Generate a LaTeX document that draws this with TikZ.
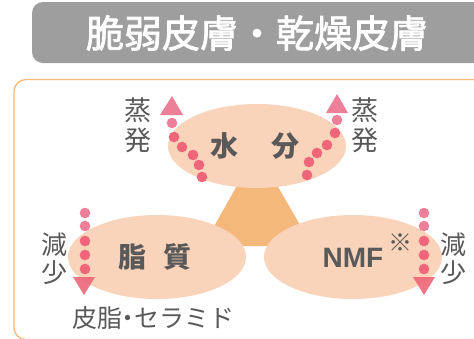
\documentclass[tikz,border=0pt]{standalone}
\usepackage{fontspec}
\newfontfamily\jp{Noto Sans CJK JP}
\newfontfamily\jpm[FakeBold=2]{Noto Sans CJK JP}
\newfontfamily\lat{Liberation Sans}
\usetikzlibrary{shapes.geometric}
\definecolor{titlegray}{HTML}{9E9E9E}
\definecolor{frameorange}{HTML}{F5B97A}
\definecolor{peach}{HTML}{F9D3BA}
\definecolor{trio}{HTML}{F4B87A}
\definecolor{txt}{HTML}{595959}
\definecolor{dotlight}{HTML}{EE7F98}
\definecolor{dotred}{HTML}{EE6677}
\tikzset{
  blob/.style={ellipse, fill=peach, minimum width=178pt, minimum height=84pt, inner sep=0pt},
  lbl/.style={text=txt, font=\jp\fontsize{27}{30}\selectfont, inner sep=0pt, align=center},
  lbls/.style={text=txt, font=\jp\fontsize{26}{28}\selectfont, inner sep=0pt, align=center},
  big/.style={text=txt, font=\jp\bfseries\fontsize{28}{30}\selectfont, inner sep=0pt},
  dotl/.style={fill=dotlight},
  dotr/.style={fill=dotred},
}
\begin{document}
\begin{tikzpicture}[x=1pt,y=-1pt]
\useasboundingbox (0,0) rectangle (474,338);
\clip (0,0) rectangle (474,338);
% title
\fill[titlegray, rounded corners=11pt] (32,2) rectangle (500,63);
\node[text=white, font=\jpm\fontsize{38}{40}\selectfont, inner sep=0pt] (title) at (257,33) {脆弱皮膚・乾燥皮膚};
% frame
\draw[frameorange, line width=1.3pt, rounded corners=12pt] (14,79.5) -- (500,79.5) -- (500,339.5) -- (14,339.5) -- cycle;
% central triangle
\fill[trio] (257,150) -- (203,246) -- (312,246) -- cycle;
% ellipses
\node[blob] (water) at (257,146) {};
\node[blob] (lipid) at (157,257) {};
\node[blob] (nmf) at (353,257) {};
\node[big] (w1) at (224,146) {水};
\node[big] (w2) at (285,146) {分};
\node[big] (l1) at (132,257) {脂};
\node[big] (l2) at (177,257) {質};
\node[text=txt, font=\lat\bfseries\fontsize{28}{30}\selectfont, inner sep=0pt] (nmft) at (353,258) {NMF};
\node[text=txt, font=\jp\fontsize{24}{24}\selectfont, inner sep=0pt] (note) at (400,243) {※};
% evaporation left
\fill[dotl] (172,96) -- (160,115) -- (183,115) -- cycle;
\fill[dotl] (172,123) circle (5.3);
\fill[dotr] (174,137) circle (5.3);
\fill[dotr] (182,147) circle (5.3);
\fill[dotr] (193,155) circle (5.3);
\fill[dotr] (199,165) circle (5.3);
\fill[dotr] (202,177) circle (5.3);
% evaporation right
\fill[dotl] (337,94) -- (326,113) -- (348,113) -- cycle;
\fill[dotl] (337,120) circle (5.3);
\fill[dotr] (335,133) circle (5.3);
\fill[dotr] (327,145) circle (5.3);
\fill[dotr] (317,153) circle (5.3);
\fill[dotr] (309,162) circle (5.3);
\fill[dotr] (307,175) circle (5.3);
\node[lbl] (ev1) at (138,125) {蒸\\発};
\node[lbl] (ev2) at (365,125) {蒸\\発};
% decrease left
\fill[dotl] (85,213) circle (5.3);
\fill[dotl] (85,226) circle (5.3);
\fill[dotr] (85,241) circle (5.3);
\fill[dotr] (85,255) circle (5.3);
\fill[dotr] (85,269) circle (5.3);
\fill[dotr, opacity=0.9] (73,277) -- (95,277) -- (84,295) -- cycle;
% decrease right
\fill[dotl] (424,213) circle (5.3);
\fill[dotl] (424,226) circle (5.3);
\fill[dotr] (424,241) circle (5.3);
\fill[dotr] (424,255) circle (5.3);
\fill[dotr] (424,269) circle (5.3);
\fill[dotr, opacity=0.9] (413,277) -- (435,277) -- (424,295) -- cycle;
\node[lbls] (dc1) at (54,259) {減\\少};
\node[lbls] (dc2) at (453,259) {減\\少};
\node[text=txt, font=\jp\fontsize{25}{26}\selectfont, inner sep=0pt] (cer) at (153,318) {皮脂\kern-6.5pt・\kern-6.5ptセラミド};
\end{tikzpicture}
\end{document}
